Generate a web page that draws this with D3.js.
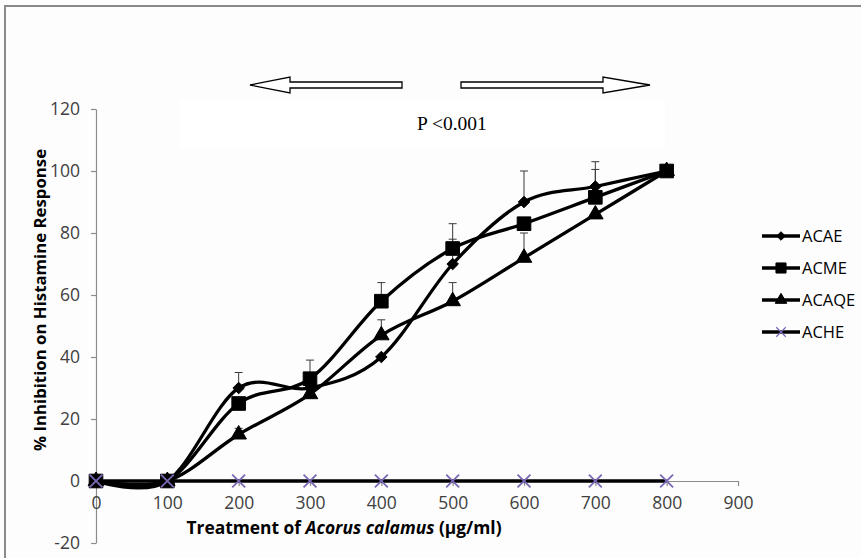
<!DOCTYPE html>
<html><head><meta charset="utf-8">
<script src="https://cdn.jsdelivr.net/npm/d3@7"></script>
<style>
html,body{margin:0;padding:0;background:#fdfdfd;}
svg{display:block;}
</style></head>
<body>
<svg id="chart" width="861" height="558"></svg>
<script>
// ---- data ----
const doses = [0, 100, 200, 300, 400, 500, 600, 700, 800];
const seriesNames = ["ACAE", "ACME", "ACAQE", "ACHE"];
const acae  = [0, 0, 30, 30, 40, 70, 90, 95, 100];
const acme  = [0, 0, 25, 33, 58, 75, 83, 91.5, 100];
const acaqe = [0, 0, 15, 28, 47, 58, 72, 86, 100];
const ache  = [0, 0, 0, 0, 0, 0, 0, 0, 0];
// upward error (SEM) per point, null = none drawn
const acaeErr  = [null, null, 5, null, null, 8, 10, 8, null];
const acmeErr  = [null, null, null, 6, 6, 8, null, 9, null];
const acaqeErr = [null, null, 2, null, 5, 6, 8, null, null];
const acheErr  = [null, null, null, null, null, null, null, null, null];
const xTicks = [0, 100, 200, 300, 400, 500, 600, 700, 800, 900];
const yTicks = [-20, 0, 20, 40, 60, 80, 100, 120];
const yTitle = "% Inhibition on Histamine Response";
const pText = "P <0.001";

const svg = d3.select("#chart");
const font = "'Open Sans', Lato, sans-serif";

// frame (top & left edges)
svg.append("path").attr("d","M5,558 L5,6 L861,6").attr("fill","none")
   .attr("stroke","#8a8a8a").attr("stroke-width",2);

const x = d3.scaleLinear().domain([0, 900]).range([96, 738]);
const y = d3.scaleLinear().domain([-20, 120]).range([543, 109]);

// subtle white panel behind P text
svg.append("rect").attr("x",180).attr("y",100).attr("width",485).attr("height",48).attr("fill","#ffffff");

// arrows
const arrowY = 85;
function arrowPath(tail, tip, headLen){
  const dir = tip > tail ? 1 : -1;
  const hb = tip - dir*headLen;
  return `M${tail},${arrowY-3} L${hb},${arrowY-3} L${hb},${arrowY-8} L${tip},${arrowY} L${hb},${arrowY+8} L${hb},${arrowY+3} L${tail},${arrowY+3} Z`;
}
svg.append("path").attr("d", arrowPath(402, 250, 40)).attr("fill","#fff").attr("stroke","#000").attr("stroke-width",1.3);
svg.append("path").attr("d", arrowPath(461, 650, 47)).attr("fill","#fff").attr("stroke","#000").attr("stroke-width",1.3);

svg.append("text").attr("x",417).attr("y",130).text(pText)
   .attr("font-family","'Liberation Serif','Times New Roman',serif").attr("font-size",19.5).attr("fill","#000");

// axes
const fmt = d => String(d);
const yAxis = svg.append("g").attr("transform",`translate(${x(0)},0)`)
  .call(d3.axisLeft(y).tickValues(yTicks).tickFormat(fmt).tickSize(5).tickSizeOuter(0).tickPadding(11));
const xAxis = svg.append("g").attr("transform",`translate(0,${y(0)})`)
  .call(d3.axisBottom(x).tickValues(xTicks).tickFormat(fmt).tickSize(5).tickSizeOuter(0).tickPadding(11));
[yAxis, xAxis].forEach(g => {
  g.select(".domain").attr("stroke","#8c8c8c").attr("stroke-width",1.2);
  g.selectAll(".tick line").attr("stroke","#8c8c8c").attr("stroke-width",1.2);
  g.selectAll(".tick text").attr("font-family",font).attr("font-size",17.5).attr("fill","#404040");
});

// axis titles
svg.append("text").attr("transform","translate(46,300) rotate(-90)").attr("text-anchor","middle")
   .attr("font-family",font).attr("font-weight","bold").attr("font-size",16.8).attr("fill","#000").text(yTitle);
const xt = svg.append("text").attr("x",344).attr("y",534).attr("text-anchor","middle")
   .attr("font-family",font).attr("font-weight","bold").attr("font-size",17.4).attr("fill","#000");
xt.append("tspan").text("Treatment of ");
xt.append("tspan").attr("font-style","italic").text("Acorus calamus");
xt.append("tspan").text(" (µg/ml)");

// series
const allValues = [acae, acme, acaqe, ache];
const allErr = [acaeErr, acmeErr, acaqeErr, acheErr];
const symbols = [d3.symbolDiamond2, d3.symbolSquare, d3.symbolTriangle, d3.symbolX];
const symSizes = [85, 185, 105, 110];
const symColor = ["#000","#000","#000","#7b68b5"];

const line = d3.line().x((d,i)=>x(doses[i])).y(d=>y(d)).curve(d3.curveCardinal.tension(0));

// error bars
allErr.forEach((errs, s) => {
  const g = svg.append("g");
  errs.forEach((e, i) => {
    if (e == null) return;
    const v = allValues[s][i];
    const cx = x(doses[i]);
    g.append("line").attr("x1",cx).attr("x2",cx).attr("y1",y(v)).attr("y2",y(v+e))
     .attr("stroke","#3a3a3a").attr("stroke-width",1);
    g.append("line").attr("x1",cx-4).attr("x2",cx+4).attr("y1",y(v+e)).attr("y2",y(v+e))
     .attr("stroke","#3a3a3a").attr("stroke-width",1);
  });
});

allValues.forEach((vals, s) => {
  svg.append("path").datum(vals).attr("d", line).attr("fill","none")
     .attr("stroke","#000").attr("stroke-width",3.3);
});
allValues.forEach((vals, s) => {
  const sym = d3.symbol().type(symbols[s]).size(symSizes[s]);
  svg.append("g").selectAll("path").data(vals).join("path")
    .attr("transform",(d,i)=>`translate(${x(doses[i])},${y(d)})`)
    .attr("d", sym)
    .attr("fill", s===3 ? "none" : "#000")
    .attr("stroke", symColor[s])
    .attr("stroke-width", s===3 ? 1.8 : 1);
});

// legend
const legY = [236, 268, 300, 332];
seriesNames.forEach((name, s) => {
  const g = svg.append("g").attr("transform",`translate(0,${legY[s]})`);
  g.append("line").attr("x1",762).attr("x2",800).attr("y1",0).attr("y2",0)
   .attr("stroke","#000").attr("stroke-width",3.3);
  g.append("path").attr("transform","translate(781,0)")
   .attr("d", d3.symbol().type(symbols[s]).size(symSizes[s]*0.55)())
   .attr("fill", s===3 ? "none" : "#000").attr("stroke", symColor[s]).attr("stroke-width", s===3?1.3:1);
  g.append("text").attr("x",802).attr("y",0).attr("dy","0.35em").text(name)
   .attr("font-family",font).attr("font-size",16.5).attr("fill","#000");
});
</script>
</body></html>
